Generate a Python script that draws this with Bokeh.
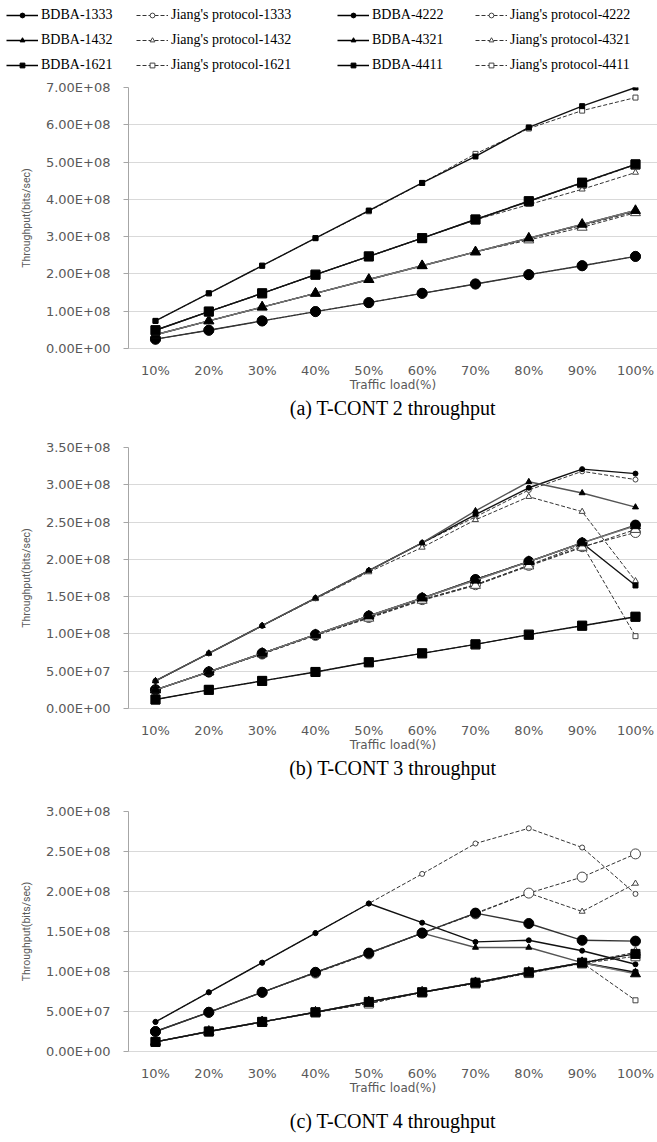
from bokeh.plotting import figure
from bokeh.layouts import column
from bokeh.models import Legend, LegendItem, FixedTicker, Range1d, Title
from bokeh.embed import file_html
from bokeh.resources import INLINE

# ---------------- data ----------------
loads = ["10%", "20%", "30%", "40%", "50%", "60%", "70%", "80%", "90%", "100%"]
xpos = list(range(1, 11))

# values in units of 1e8 bits/sec
# (a) T-CONT 2
a_bdba_1333 = [0.37, 0.74, 1.11, 1.48, 1.85, 2.22, 2.59, 2.96, 3.33, 3.70]
a_jiang_1333 = [0.37, 0.74, 1.11, 1.48, 1.85, 2.22, 2.59, 2.95, 3.30, 3.67]
a_bdba_1432 = [0.49, 0.99, 1.48, 1.98, 2.47, 2.96, 3.46, 3.95, 4.45, 4.94]
a_jiang_1432 = [0.49, 0.99, 1.48, 1.98, 2.47, 2.96, 3.45, 3.86, 4.27, 4.72]
a_bdba_1621 = [0.74, 1.48, 2.22, 2.96, 3.70, 4.44, 5.15, 5.93, 6.50, 7.00]
a_jiang_1621 = [0.74, 1.48, 2.22, 2.96, 3.68, 4.44, 5.22, 5.90, 6.38, 6.73]
a_bdba_4222 = [0.25, 0.49, 0.74, 0.99, 1.23, 1.48, 1.73, 1.98, 2.22, 2.47]
a_jiang_4222 = [0.25, 0.49, 0.74, 0.99, 1.23, 1.48, 1.73, 1.98, 2.22, 2.47]
a_bdba_4321 = [0.37, 0.74, 1.11, 1.48, 1.85, 2.22, 2.59, 2.96, 3.33, 3.70]
a_jiang_4321 = [0.37, 0.74, 1.11, 1.48, 1.85, 2.22, 2.59, 2.91, 3.25, 3.64]
a_bdba_4411 = [0.49, 0.99, 1.48, 1.98, 2.47, 2.96, 3.46, 3.95, 4.45, 4.94]
a_jiang_4411 = [0.49, 0.99, 1.48, 1.98, 2.47, 2.96, 3.46, 3.95, 4.43, 4.93]

# (b) T-CONT 3
b_bdba_1333 = [0.37, 0.74, 1.11, 1.48, 1.85, 2.22, 2.60, 2.96, 3.21, 3.15]
b_jiang_1333 = [0.37, 0.74, 1.11, 1.48, 1.85, 2.22, 2.57, 2.93, 3.18, 3.07]
b_bdba_1432 = [0.37, 0.74, 1.11, 1.48, 1.85, 2.22, 2.65, 3.04, 2.89, 2.70]
b_jiang_1432 = [0.37, 0.74, 1.11, 1.47, 1.83, 2.16, 2.53, 2.84, 2.64, 1.71]
b_bdba_1621 = [0.25, 0.49, 0.74, 0.99, 1.24, 1.48, 1.73, 1.97, 2.22, 1.65]
b_jiang_1621 = [0.25, 0.49, 0.74, 0.99, 1.22, 1.46, 1.66, 1.92, 2.20, 0.97]
b_bdba_4222 = [0.25, 0.49, 0.74, 0.99, 1.24, 1.48, 1.73, 1.97, 2.22, 2.46]
b_jiang_4222 = [0.25, 0.49, 0.73, 0.98, 1.22, 1.46, 1.66, 1.92, 2.17, 2.36]
b_bdba_4321 = [0.25, 0.49, 0.74, 0.99, 1.24, 1.48, 1.72, 1.97, 2.22, 2.45]
b_jiang_4321 = [0.25, 0.49, 0.73, 0.98, 1.21, 1.45, 1.65, 1.91, 2.16, 2.40]
b_bdba_4411 = [0.12, 0.25, 0.37, 0.49, 0.62, 0.74, 0.86, 0.99, 1.11, 1.23]
b_jiang_4411 = [0.12, 0.25, 0.37, 0.49, 0.62, 0.74, 0.86, 0.99, 1.11, 1.23]

# (c) T-CONT 4
c_bdba_1333 = [0.37, 0.74, 1.11, 1.48, 1.85, 1.61, 1.37, 1.39, 1.26, 1.09]
c_jiang_1333 = [0.37, 0.74, 1.11, 1.48, 1.85, 2.22, 2.60, 2.79, 2.55, 1.97]
c_bdba_1432 = [0.25, 0.49, 0.74, 0.99, 1.23, 1.48, 1.30, 1.30, 1.11, 0.98]
c_jiang_1432 = [0.25, 0.49, 0.74, 0.99, 1.23, 1.48, 1.73, 1.98, 1.75, 2.10]
c_bdba_1621 = [0.12, 0.25, 0.37, 0.49, 0.62, 0.74, 0.86, 0.99, 1.11, 0.99]
c_jiang_1621 = [0.12, 0.25, 0.37, 0.49, 0.60, 0.74, 0.86, 0.99, 1.11, 0.64]
c_bdba_4222 = [0.25, 0.49, 0.74, 0.99, 1.23, 1.48, 1.73, 1.60, 1.39, 1.38]
c_jiang_4222 = [0.25, 0.49, 0.74, 0.98, 1.22, 1.48, 1.72, 1.98, 2.18, 2.47]
c_bdba_4321 = [0.12, 0.25, 0.37, 0.49, 0.62, 0.74, 0.86, 0.99, 1.11, 0.97]
c_jiang_4321 = [0.12, 0.25, 0.37, 0.49, 0.60, 0.74, 0.85, 0.98, 1.11, 1.24]
c_bdba_4411 = [0.12, 0.25, 0.37, 0.49, 0.62, 0.74, 0.86, 0.99, 1.11, 1.22]
c_jiang_4411 = [0.12, 0.25, 0.37, 0.49, 0.60, 0.74, 0.85, 0.98, 1.10, 1.19]

a_ticks = [0, 1, 2, 3, 4, 5, 6, 7]
a_tick_labels = ["0.00E+00", "1.00E+08", "2.00E+08", "3.00E+08", "4.00E+08",
                 "5.00E+08", "6.00E+08", "7.00E+08"]
b_ticks = [0, 0.5, 1, 1.5, 2, 2.5, 3, 3.5]
b_tick_labels = ["0.00E+00", "5.00E+07", "1.00E+08", "1.50E+08", "2.00E+08",
                 "2.50E+08", "3.00E+08", "3.50E+08"]
c_ticks = [0, 0.5, 1, 1.5, 2, 2.5, 3]
c_tick_labels = ["0.00E+00", "5.00E+07", "1.00E+08", "1.50E+08", "2.00E+08",
                 "2.50E+08", "3.00E+08"]

series_codes = ["1333", "1432", "1621", "4222", "4321", "4411"]

# ---------------- styles ----------------
MARK = {
    "1333": ("circle", 5),
    "1432": ("triangle", 6),
    "1621": ("square", 5),
    "4222": ("circle", 10),
    "4321": ("triangle", 10),
    "4411": ("square", 9),
}
BDBA_COLOR = {"1333": "#111111", "1432": "#555555", "1621": "#111111",
              "4222": "#333333", "4321": "#777777", "4411": "#111111"}
JIANG_COLOR = "#333333"
W = 657
XR = (0.494, 10.413)


def add_series(p, code, bd, ji, legend_style=False):
    m, s = MARK[code]
    bcol = "black" if legend_style else BDBA_COLOR[code]
    rj = p.line(xpos, ji, line_color=JIANG_COLOR, line_width=1, line_dash="4 2")
    sj = p.scatter(xpos, ji, marker=m, size=s, fill_color="white",
                   line_color="#444444", line_width=1)
    rb = p.line(xpos, bd, line_color=bcol, line_width=1.4)
    sb = p.scatter(xpos, bd, marker=m, size=s, fill_color="black",
                   line_color="black")
    return (rb, sb), (rj, sj)


def make_chart(data, ymax, ticks, tick_labels, height, top, bottom, caption, cap_standoff):
    p = figure(width=W, height=height, x_range=Range1d(*XR), y_range=Range1d(0, ymax),
               output_backend="svg", toolbar_location=None,
               min_border_left=128, min_border_right=0, min_border_top=top,
               min_border_bottom=bottom)
    p.outline_line_color = None
    p.xgrid.grid_line_color = None
    p.ygrid.grid_line_color = "#d9d9d9"
    p.ygrid.grid_line_width = 1.2
    p.yaxis.ticker = FixedTicker(ticks=ticks)
    p.yaxis.major_label_overrides = {t: l for t, l in zip(ticks, tick_labels)}
    p.xaxis.ticker = FixedTicker(ticks=xpos)
    p.xaxis.major_label_overrides = {x: l for x, l in zip(xpos, loads)}
    for ax in (p.xaxis[0], p.yaxis[0]):
        ax.minor_tick_line_color = None
        ax.major_label_text_font = "DejaVu Sans"
        ax.major_label_text_font_size = "13px"
        ax.major_label_text_color = "#595959"
        ax.axis_label_text_font_style = "normal"
        ax.axis_label_text_color = "#595959"
    p.yaxis.axis_line_color = "#a6a6a6"
    p.yaxis.major_tick_line_color = "#a6a6a6"
    p.yaxis.major_tick_out = 5
    p.yaxis.major_tick_in = 0
    p.yaxis.major_label_standoff = 13
    p.yaxis.axis_label = "Throughput(bits/sec)"
    p.yaxis.axis_label_text_font = "Roboto"
    p.yaxis.axis_label_text_font_size = "10.5px"
    p.yaxis.axis_label_standoff = 10
    p.xaxis.axis_line_color = "#d9d9d9"
    p.xaxis.major_tick_line_color = None
    p.xaxis.major_label_standoff = 8
    p.xaxis.axis_label = "Traffic load(%)"
    p.xaxis.axis_label_text_font = "DejaVu Sans"
    p.xaxis.axis_label_text_font_size = "12px"
    p.xaxis.axis_label_standoff = -3
    for code in series_codes:
        bd, ji = data[code]
        add_series(p, code, bd, ji)
    t = Title(text=caption, align="center", text_font="Liberation Serif",
              text_font_size="20px", text_font_style="normal", text_color="black",
              standoff=cap_standoff)
    p.add_layout(t, "below")
    return p


data_a = {"1333": (a_bdba_1333, a_jiang_1333), "1432": (a_bdba_1432, a_jiang_1432),
          "1621": (a_bdba_1621, a_jiang_1621), "4222": (a_bdba_4222, a_jiang_4222),
          "4321": (a_bdba_4321, a_jiang_4321), "4411": (a_bdba_4411, a_jiang_4411)}
data_b = {"1333": (b_bdba_1333, b_jiang_1333), "1432": (b_bdba_1432, b_jiang_1432),
          "1621": (b_bdba_1621, b_jiang_1621), "4222": (b_bdba_4222, b_jiang_4222),
          "4321": (b_bdba_4321, b_jiang_4321), "4411": (b_bdba_4411, b_jiang_4411)}
data_c = {"1333": (c_bdba_1333, c_jiang_1333), "1432": (c_bdba_1432, c_jiang_1432),
          "1621": (c_bdba_1621, c_jiang_1621), "4222": (c_bdba_4222, c_jiang_4222),
          "4321": (c_bdba_4321, c_jiang_4321), "4411": (c_bdba_4411, c_jiang_4411)}

pa = make_chart(data_a, 7, a_ticks, a_tick_labels, 360, 8, 91,
                "(a) T-CONT 2 throughput", 0)
pb = make_chart(data_b, 3.5, b_ticks, b_tick_labels, 364, 8, 95,
                "(b) T-CONT 3 throughput", 0)
pc = make_chart(data_c, 3, c_ticks, c_tick_labels, 339, 8, 87,
                "(c) T-CONT 4 throughput", 21)

# ---------------- legend strip (series styles; data kept out of view) ----------------
LEG_H = 79
leg = figure(width=W, height=LEG_H, output_backend="svg", toolbar_location=None,
             x_range=Range1d(*XR), y_range=Range1d(-3, -2),
             x_axis_type=None, y_axis_type=None,
             min_border_left=0, min_border_right=0, min_border_top=0,
             min_border_bottom=0)
leg.grid.visible = False
leg.outline_line_color = None
frame_shift = 0
if "frame_align" in leg.properties():
    leg.frame_align = False
else:
    frame_shift = 128
leg_r = {}
for code in series_codes:
    bd, ji = data_a[code]
    leg_r[code] = add_series(leg, code, bd, ji, legend_style=True)

legend_columns = [
    (["1333", "1432", "1621"], 0, 6),
    (["1333", "1432", "1621"], 1, 136),
    (["4222", "4321", "4411"], 0, 337),
    (["4222", "4321", "4411"], 1, 475),
]
for codes, kind, xoff in legend_columns:
    items = []
    for code in codes:
        pair = leg_r[code][kind]
        lab = ("BDBA-" if kind == 0 else "Jiang's protocol-") + code
        items.append(LegendItem(label=lab, renderers=list(pair)))
    lg = Legend(items=items, location=(xoff - frame_shift, 6), orientation="vertical",
                margin=0, padding=0, spacing=9, glyph_width=32, glyph_height=12,
                label_height=12, label_standoff=3, label_text_font="Liberation Serif",
                label_text_font_size="14px", background_fill_alpha=0,
                border_line_color=None, label_text_color="black")
    leg.add_layout(lg)

layout = column(leg, pa, pb, pc, spacing=0)
open("out.html", "w").write(file_html(layout, INLINE))
